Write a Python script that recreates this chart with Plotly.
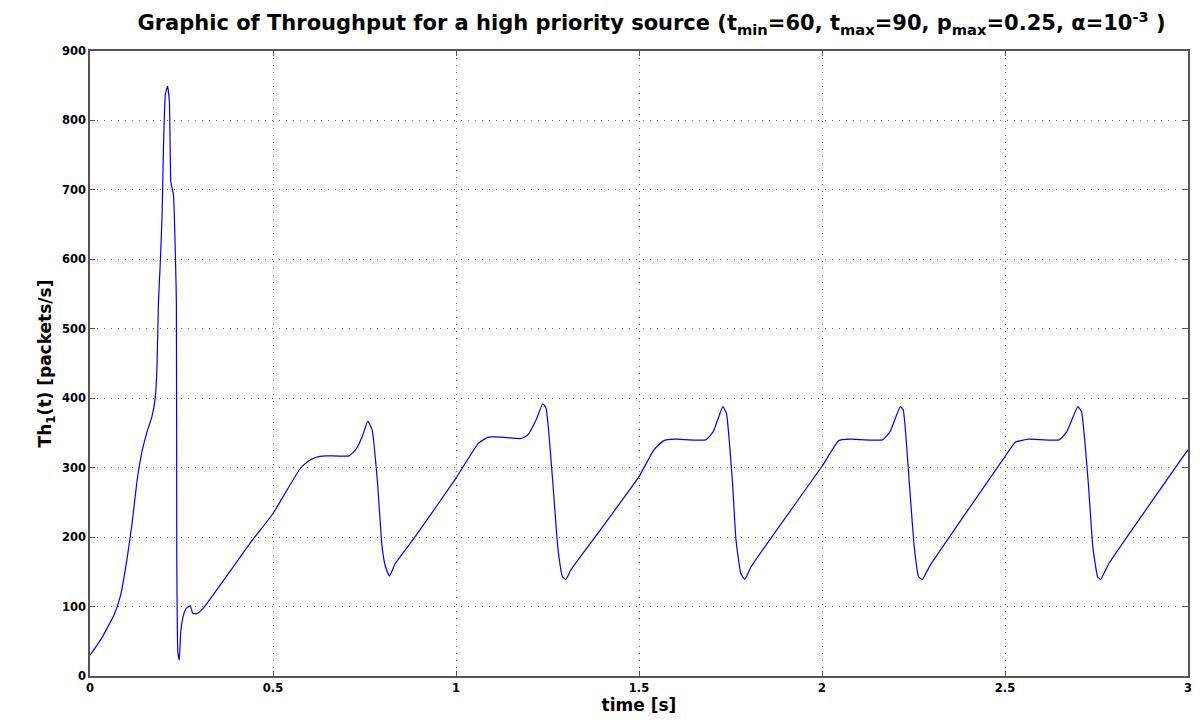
import plotly.graph_objects as go

# time [s]
t = [0.0, 0.029, 0.065, 0.083, 0.101, 0.115, 0.129, 0.142, 0.156, 0.169, 0.178, 0.183,
     0.187, 0.192, 0.197, 0.201, 0.206, 0.212, 0.217, 0.221, 0.228, 0.236, 0.237, 0.240,
     0.244, 0.248, 0.255, 0.264, 0.274, 0.281, 0.293, 0.310, 0.437, 0.5, 0.572, 0.595,
     0.618, 0.645, 0.708, 0.726, 0.744, 0.759, 0.771, 0.785, 0.798, 0.807, 0.818, 0.834,
     0.889, 1.0, 1.061, 1.088, 1.124, 1.178, 1.196, 1.219, 1.237, 1.246, 1.264, 1.278,
     1.291, 1.300, 1.314, 1.391, 1.5, 1.541, 1.568, 1.599, 1.682, 1.703, 1.729, 1.739,
     1.755, 1.765, 1.778, 1.789, 1.807, 2.0, 2.046, 2.077, 2.165, 2.186, 2.214, 2.222,
     2.238, 2.252, 2.264, 2.274, 2.295, 2.5, 2.529, 2.565, 2.648, 2.669, 2.699, 2.709,
     2.727, 2.740, 2.753, 2.761, 2.784, 3.0]
# throughput [packets/s]
th = [30, 52, 87, 115, 168, 220, 283, 323, 352, 373, 399, 445,
      537, 595, 664, 768, 838, 849, 826, 711, 693, 537, 179, 35,
      23, 64, 87, 98, 101, 90, 90, 98, 191, 234, 297, 309,
      315, 317, 317, 326, 345, 367, 354, 282, 186, 158, 144, 162,
      201, 285, 335, 344, 344, 342, 347, 369, 392, 386, 282, 186,
      143, 139, 153, 208, 287, 326, 339, 341, 340, 352, 388, 378,
      282, 196, 148, 139, 158, 302, 339, 341, 340, 352, 388, 383,
      282, 186, 143, 139, 159, 316, 337, 341, 340, 352, 388, 381,
      282, 186, 143, 139, 162, 326]

x_ticks = [0, 0.5, 1, 1.5, 2, 2.5, 3]
x_tick_labels = ["0", "0.5", "1", "1.5", "2", "2.5", "3"]
y_ticks = [0, 100, 200, 300, 400, 500, 600, 700, 800, 900]

font = "DejaVu Sans, Liberation Sans, Arial, sans-serif"

fig = go.Figure()
fig.add_trace(go.Scatter(x=t, y=th, mode="lines",
                         line=dict(color="#0000ff", width=1.2, shape="spline", smoothing=0.4),
                         showlegend=False))

axis_common = dict(
    showline=True, linecolor="#555555", linewidth=1.5, mirror="ticks",
    ticks="inside", ticklen=5, tickcolor="#555555", tickwidth=1.2,
    showgrid=True, gridcolor="#666666", griddash="1px,6px", gridwidth=1,
    zeroline=False,
    tickfont=dict(family=font, size=11.5, color="black", weight="bold"),
)

fig.update_layout(
    width=1200, height=720,
    paper_bgcolor="white", plot_bgcolor="white",
    margin=dict(l=90, r=8, t=51, b=44),
    title=dict(
        text="Graphic of Throughput for a high priority source (t<sub>min</sub>=60, t<sub>max</sub>=90, p<sub>max</sub>=0.25, α=10<sup>-3</sup> )",
        x=0.543, xanchor="center", y=0.968, yanchor="middle",
        font=dict(family=font, size=21, color="black", weight="bold"),
    ),
    xaxis=dict(range=[0, 3], tickvals=x_ticks, ticktext=x_tick_labels,
               title=dict(text="time [s]", standoff=4,
                          font=dict(family=font, size=17, color="black", weight="bold")),
               **axis_common),
    yaxis=dict(range=[0, 900], tickvals=y_ticks,
               title=dict(text="Th<sub>1</sub>(t) [packets/s]", standoff=6,
                          font=dict(family=font, size=17, color="black", weight="bold")),
               **axis_common),
)

fig.write_html("out.html")
